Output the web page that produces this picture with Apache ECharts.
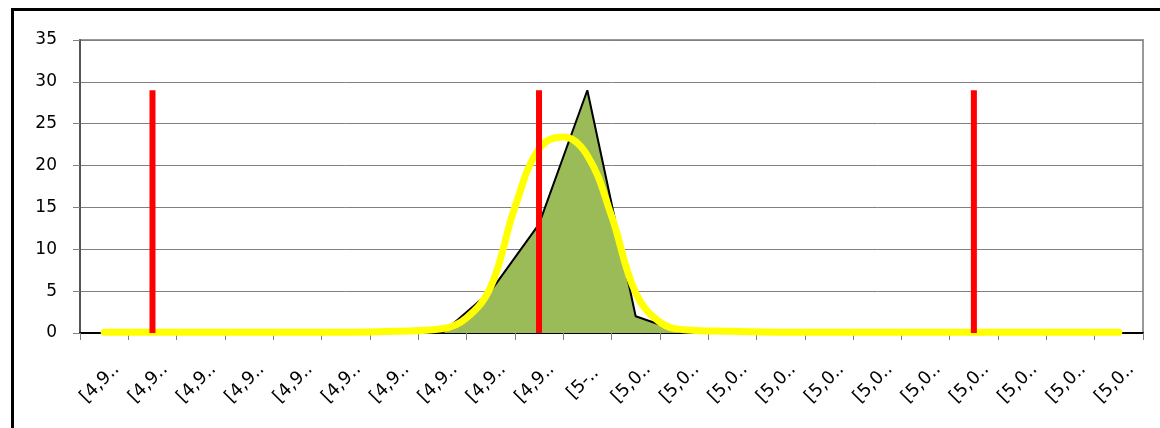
<!DOCTYPE html>
<html>
<head>
<meta charset="utf-8">
<script src="https://cdn.jsdelivr.net/npm/echarts@6/dist/echarts.min.js"></script>
<style>
  html, body { margin: 0; padding: 0; background: #fff; }
  #chart { width: 1160px; height: 428px; }
</style>
</head>
<body>
<div id="chart"></div>
<script>
// 区间标签（原图中被截断）
var categories = [
  '[4,9..', '[4,9..', '[4,9..', '[4,9..', '[4,9..', '[4,9..', '[4,9..', '[4,9..', '[4,9..', '[4,9..',
  '[5-..',
  '[5,0..', '[5,0..', '[5,0..', '[5,0..', '[5,0..', '[5,0..', '[5,0..', '[5,0..', '[5,0..', '[5,0..', '[5,0..'
];
// 频数（面积）
var freq = [0, 0, 0, 0, 0, 0, 0, 0, 5, 13, 29, 2, 0, 0, 0, 0, 0, 0, 0, 0, 0, 0];
// 红色竖线（下限 / 均值 / 上限）
var limits = [null, 29, null, null, null, null, null, null, null, 29, null, null, null, null, null, null, null, null, 29, null, null, null];
// 正态曲线：位置（以类目宽度计）与读数
var curveX = [0.5, 1.5, 2.5, 3.5, 4.5, 5.5, 6.5, 7.5, 8, 8.5, 9, 9.5, 10, 10.5, 11, 11.5, 12, 12.5, 13.5, 14.5, 15.5, 16.5, 17.5, 18.5, 19.5, 20.5, 21.5];
var curveY = [0.1, 0.1, 0.1, 0.1, 0.1, 0.1, 0.2, 0.5, 1.8, 5.5, 15.0, 22.0, 23.4, 21.2, 14.0, 4.8, 1.3, 0.4, 0.2, 0.1, 0.1, 0.1, 0.1, 0.1, 0.1, 0.1, 0.1];
var yTicks = { min: 0, max: 35, step: 5 };

var curveData = curveX.map(function (x, i) { return [x, curveY[i]]; });
var font = 'DejaVu Sans';

var myChart = echarts.init(document.getElementById('chart'));
myChart.setOption({
  animation: false,
  graphic: [{
    type: 'rect',
    shape: { x: 12.5, y: 9.5, width: 1160, height: 440 },
    style: { fill: 'none', stroke: '#000', lineWidth: 3 },
    silent: true
  }],
  grid: {
    left: 80, right: 17, top: 40, bottom: 95,
    show: true,
    borderColor: '#999',
    borderWidth: 2
  },
  xAxis: [{
    type: 'category',
    data: categories,
    boundaryGap: true,
    axisLine: { lineStyle: { color: '#000', width: 2 } },
    axisTick: { show: true, length: 7, lineStyle: { color: '#808080' } },
    axisLabel: {
      interval: 0,
      rotate: 45,
      align: 'center',
      verticalAlign: 'middle',
      margin: 46,
      padding: [0, 12, 0, 0],
      fontSize: 18,
      fontFamily: font,
      color: '#000'
    },
    splitLine: { show: false }
  }, {
    type: 'value',
    min: 0,
    max: 22,
    show: false
  }],
  yAxis: {
    type: 'value',
    min: yTicks.min,
    max: yTicks.max,
    interval: yTicks.step,
    axisLine: { show: true, lineStyle: { color: '#555', width: 2 } },
    axisTick: { show: true, length: 7, lineStyle: { color: '#808080' } },
    axisLabel: { fontSize: 17, fontFamily: font, color: '#000', margin: 23 },
    splitLine: { show: true, lineStyle: { color: '#808080', width: 1 } }
  },
  series: [{
    type: 'line',
    data: freq,
    symbol: 'none',
    lineStyle: { color: '#000', width: 2 },
    areaStyle: { color: '#9bbb59', opacity: 1 },
    z: 2
  }, {
    type: 'line',
    xAxisIndex: 1,
    data: curveData,
    symbol: 'none',
    smooth: 0.4,
    lineStyle: { color: '#ffff00', width: 7, cap: 'round', join: 'round' },
    z: 3
  }, {
    type: 'bar',
    data: limits,
    barWidth: 6,
    itemStyle: { color: '#ff0000' },
    z: 4
  }]
});
</script>
</body>
</html>
